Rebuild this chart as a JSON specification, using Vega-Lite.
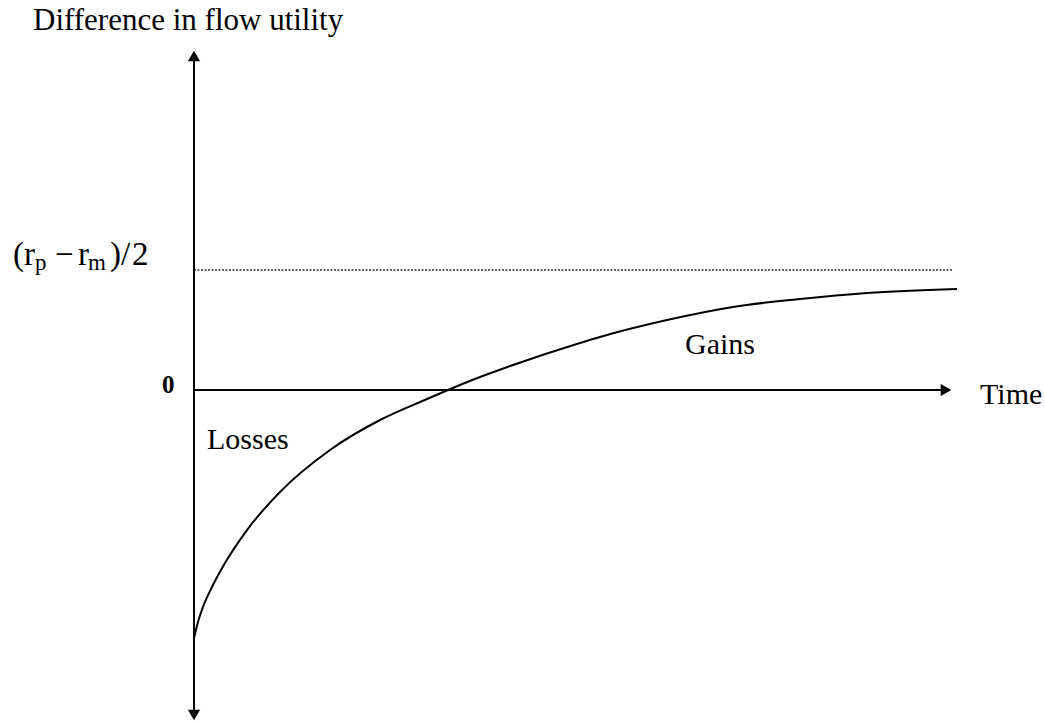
{
  "$schema": "https://vega.github.io/schema/vega-lite/v6.json",
  "width": 759,
  "height": 673,
  "autosize": "none",
  "padding": {"left": 194, "top": 49, "right": 92, "bottom": 1},
  "background": "white",
  "config": {"view": {"stroke": null}, "text": {"font": "Liberation Serif"}},
  "datasets": {
    "curve": [
      {"t": 0, "u": -2.067},
      {"t": 0.00527, "u": -1.933},
      {"t": 0.01186, "u": -1.808},
      {"t": 0.02503, "u": -1.625},
      {"t": 0.04084, "u": -1.442},
      {"t": 0.06983, "u": -1.167},
      {"t": 0.11331, "u": -0.85},
      {"t": 0.17918, "u": -0.5},
      {"t": 0.24506, "u": -0.25},
      {"t": 0.30698, "u": -0.075},
      {"t": 0.33465, "u": 0},
      {"t": 0.37681, "u": 0.108},
      {"t": 0.42029, "u": 0.208},
      {"t": 0.50856, "u": 0.392},
      {"t": 0.5349, "u": 0.442},
      {"t": 0.62319, "u": 0.583},
      {"t": 0.71014, "u": 0.692},
      {"t": 0.79842, "u": 0.758},
      {"t": 0.8867, "u": 0.808},
      {"t": 1.00527, "u": 0.842}
    ],
    "labels": [
      {"text": "Gains", "t": 0.6469, "u": 0.3},
      {"text": "Losses", "t": 0.0171, "u": -0.4917},
      {"text": "Time", "t": 1.0356, "u": -0.1167}
    ],
    "title": [
      {"text": "Difference in flow utility", "t": -0.2121, "u": 3.0}
    ],
    "formula": [
      {"text": "(r", "t": -0.2385, "u": 1.0417},
      {"text": "−", "t": -0.1831, "u": 1.0417},
      {"text": "r", "t": -0.1528, "u": 1.0417},
      {"text": ")/", "t": -0.1107, "u": 1.0417},
      {"text": "2", "t": -0.0817, "u": 1.0417}
    ],
    "subs": [
      {"text": "p", "t": -0.2095, "u": 1.0},
      {"text": "m", "t": -0.1397, "u": 1.0}
    ],
    "zero": [
      {"text": "0", "t": -0.0422, "u": -0.025}
    ],
    "arrows": [
      {"dir": "up", "t": 0, "u": 2.783},
      {"dir": "down", "t": 0, "u": -2.708},
      {"dir": "right", "t": 0.9908, "u": 0}
    ]
  },
  "layer": [
    {
      "data": {"values": [{}]},
      "mark": {"type": "rule", "color": "#333", "strokeWidth": 1.3, "strokeDash": [2, 1.5]},
      "encoding": {
        "x": {"datum": 0, "type": "quantitative", "scale": {"domain": [0, 1], "nice": false, "zero": false}, "axis": null},
        "x2": {"datum": 1},
        "y": {"datum": 1, "type": "quantitative", "scale": {"domain": [-2.7667, 2.8417], "nice": false, "zero": false}, "axis": null}
      }
    },
    {
      "data": {"values": [{}]},
      "mark": {"type": "rule", "color": "black", "strokeWidth": 2},
      "encoding": {
        "x": {"datum": 0, "type": "quantitative"},
        "y": {"datum": -2.708, "type": "quantitative"},
        "y2": {"datum": 2.783}
      }
    },
    {
      "data": {"values": [{}]},
      "mark": {"type": "rule", "color": "black", "strokeWidth": 2},
      "encoding": {
        "x": {"datum": 0, "type": "quantitative"},
        "x2": {"datum": 0.9908},
        "y": {"datum": 0, "type": "quantitative"}
      }
    },
    {
      "data": {"name": "curve"},
      "mark": {"type": "line", "color": "black", "strokeWidth": 2, "interpolate": "monotone"},
      "encoding": {
        "x": {"field": "t", "type": "quantitative"},
        "y": {"field": "u", "type": "quantitative"}
      }
    },
    {
      "data": {"name": "arrows"},
      "mark": {"type": "point", "filled": true, "color": "black", "opacity": 1, "size": 150},
      "encoding": {
        "x": {"field": "t", "type": "quantitative"},
        "y": {"field": "u", "type": "quantitative"},
        "shape": {"field": "dir", "type": "nominal", "scale": {"domain": ["up", "down", "right"], "range": ["triangle-up", "triangle-down", "triangle-right"]}, "legend": null}
      }
    },
    {
      "data": {"name": "labels"},
      "mark": {"type": "text", "fontSize": 30, "align": "left", "baseline": "alphabetic", "color": "black"},
      "encoding": {
        "x": {"field": "t", "type": "quantitative"},
        "y": {"field": "u", "type": "quantitative"},
        "text": {"field": "text"}
      }
    },
    {
      "data": {"name": "title"},
      "mark": {"type": "text", "fontSize": 31, "align": "left", "baseline": "alphabetic", "color": "black"},
      "encoding": {
        "x": {"field": "t", "type": "quantitative"},
        "y": {"field": "u", "type": "quantitative"},
        "text": {"field": "text"}
      }
    },
    {
      "data": {"name": "formula"},
      "mark": {"type": "text", "fontSize": 33, "align": "left", "baseline": "alphabetic", "color": "black"},
      "encoding": {
        "x": {"field": "t", "type": "quantitative"},
        "y": {"field": "u", "type": "quantitative"},
        "text": {"field": "text"}
      }
    },
    {
      "data": {"name": "subs"},
      "mark": {"type": "text", "fontSize": 23, "align": "left", "baseline": "alphabetic", "color": "black"},
      "encoding": {
        "x": {"field": "t", "type": "quantitative"},
        "y": {"field": "u", "type": "quantitative"},
        "text": {"field": "text"}
      }
    },
    {
      "data": {"name": "zero"},
      "mark": {"type": "text", "fontSize": 25, "fontWeight": "bold", "align": "left", "baseline": "alphabetic", "color": "black"},
      "encoding": {
        "x": {"field": "t", "type": "quantitative"},
        "y": {"field": "u", "type": "quantitative"},
        "text": {"field": "text"}
      }
    }
  ]
}
